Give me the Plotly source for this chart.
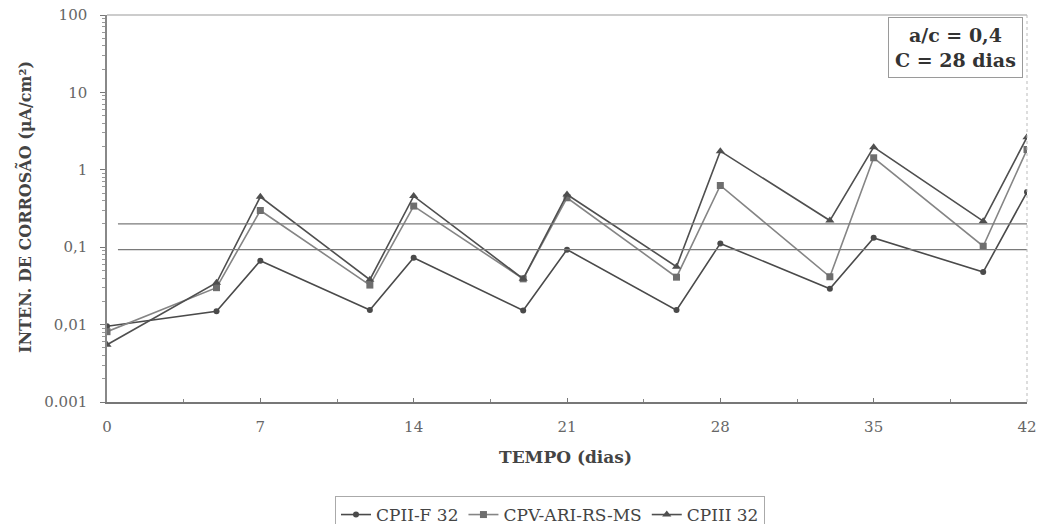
import plotly.graph_objects as go

dias = [0, 5, 7, 12, 14, 19, 21, 26, 28, 33, 35, 40, 42]
cpii_f32 = [0.0095, 0.0149, 0.067, 0.0154, 0.073, 0.0152, 0.093, 0.0154, 0.112, 0.029, 0.132, 0.0477, 0.515]
cpv_ari = [0.0081, 0.030, 0.298, 0.0324, 0.34, 0.039, 0.435, 0.041, 0.627, 0.0415, 1.43, 0.103, 1.83]
cpiii32 = [0.0055, 0.0347, 0.448, 0.038, 0.457, 0.039, 0.48, 0.056, 1.74, 0.221, 1.96, 0.217, 2.64]
limites = [0.2, 0.093]
limite_x = [0.5, 42]

x_ticks = [0, 7, 14, 21, 28, 35, 42]
y_ticks = [0.001, 0.01, 0.1, 1, 10, 100]
y_ticklabels = ["0.001", "0,01", "0,1", "1", "10", "100"]

serif = "DejaVu Serif, serif"
minor_y = [m * 10 ** e for e in range(-3, 2) for m in range(2, 10)]

fig = go.Figure()
fig.add_trace(go.Scatter(x=dias, y=cpii_f32, name="CPII-F 32", mode="lines+markers",
                         line=dict(color="#4a4a4a", width=1.6),
                         marker=dict(symbol="circle", size=6, color="#4a4a4a")))
fig.add_trace(go.Scatter(x=dias, y=cpv_ari, name="CPV-ARI-RS-MS", mode="lines+markers",
                         line=dict(color="#858585", width=1.6),
                         marker=dict(symbol="square", size=7, color="#6e6e6e")))
fig.add_trace(go.Scatter(x=dias, y=cpiii32, name="CPIII 32", mode="lines+markers",
                         line=dict(color="#4f4f4f", width=1.6),
                         marker=dict(symbol="triangle-up", size=8, color="#4f4f4f")))

for v in limites:
    fig.add_shape(type="line", xref="x", yref="y", x0=limite_x[0], x1=limite_x[1], y0=v, y1=v,
                  line=dict(color="#7a7a7a", width=1.4))

fig.add_annotation(xref="paper", yref="paper", x=(1023 - 107) / 920, y=(402 - 17) / 387,
                   xanchor="right", yanchor="top",
                   text="<b>a/c = 0,4<br>C = 28 dias</b>", showarrow=False, align="center",
                   font=dict(family=serif, size=19, color="#333333"),
                   bordercolor="#9a9a9a", borderwidth=1, borderpad=6, bgcolor="white")

# axis titles
fig.add_annotation(xref="paper", yref="paper", x=(565 - 107) / 920, y=-(457 - 402) / 387,
                   xanchor="center", yanchor="middle", showarrow=False,
                   text="<b>TEMPO (dias)</b>", font=dict(family=serif, size=17, color="#444444"))
fig.add_annotation(xref="paper", yref="paper", x=-(107 - 24) / 920, y=(402 - 207) / 387,
                   xanchor="center", yanchor="middle", showarrow=False, textangle=-90,
                   text="<b>INTEN. DE CORROSÃO (μA/cm²)</b>", font=dict(family=serif, size=16, color="#444444"))

fig.update_layout(
    width=1038, height=524,
    margin=dict(l=107, r=11, t=15, b=122, autoexpand=False),
    paper_bgcolor="white", plot_bgcolor="white",
    font=dict(family=serif, color="#444444", size=13),
    showlegend=True,
    legend=dict(orientation="h", xref="container", yref="container",
                x=550 / 1038, y=1 - 496 / 524, xanchor="center", yanchor="top",
                font=dict(family=serif, size=17, color="#444444"),
                bordercolor="#aaaaaa", borderwidth=1, itemwidth=30, tracegroupgap=0),
)
fig.update_xaxes(range=[0, 42], tickvals=x_ticks, showgrid=False, zeroline=False, automargin=False,
                 showline=True, linecolor="#777777", linewidth=1.5, mirror=False,
                 ticks="inside", ticklen=4, tickcolor="#777777", ticklabelstandoff=10,
                 minor=dict(dtick=3.5, tick0=0, ticks="inside", ticklen=3, tickcolor="#888888"),
                 tickfont=dict(family=serif, size=15, color="#666666"))
fig.update_yaxes(type="log", range=[-3, 2], tickvals=y_ticks, ticktext=y_ticklabels, automargin=False,
                 showgrid=False, zeroline=False, showline=True, linecolor="#888888", linewidth=1.5,
                 ticks="outside", ticklen=5, tickcolor="#777777", ticklabelstandoff=10,
                 minor=dict(tickmode="array", tickvals=minor_y, ticks="outside", ticklen=3,
                            tickcolor="#999999", showgrid=False),
                 tickfont=dict(family=serif, size=15, color="#666666"))

# top and right frame lines
fig.add_shape(type="line", xref="paper", yref="paper", x0=0, x1=1, y0=1, y1=1,
              line=dict(color="#999999", width=1))
fig.add_shape(type="line", xref="paper", yref="paper", x0=1, x1=1, y0=0, y1=1,
              line=dict(color="#bbbbbb", width=1, dash="dot"))

fig.write_html("out.html")
